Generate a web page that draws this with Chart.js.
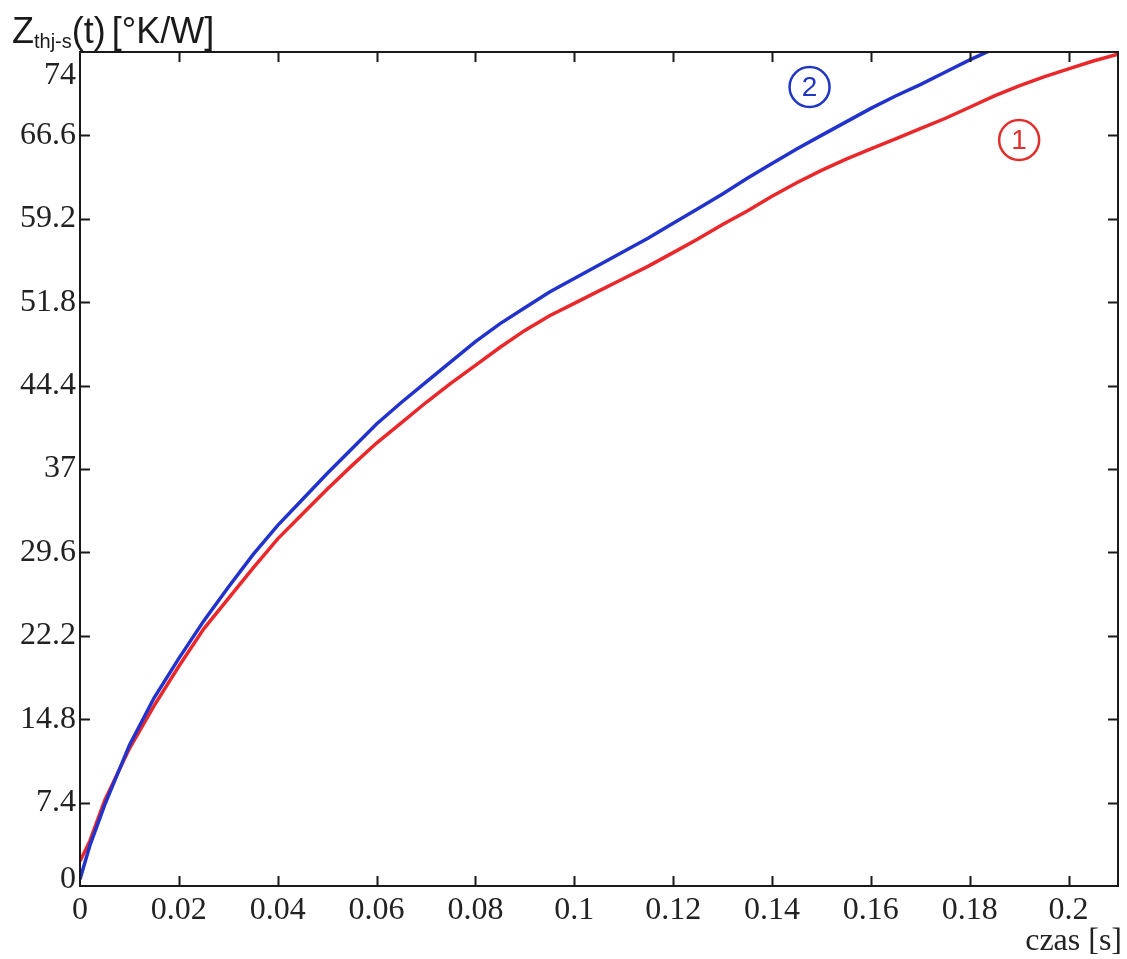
<!DOCTYPE html>
<html>
<head>
<meta charset="utf-8">
<script src="https://cdn.jsdelivr.net/npm/chart.js@4.4.1/dist/chart.umd.min.js"></script>
<style>
  html, body { margin: 0; padding: 0; background: #ffffff; }
  #wrap { width: 1127px; height: 959px; }
</style>
</head>
<body>
<div id="wrap"><canvas id="wykres" width="1127" height="959"></canvas></div>
<script>
// czas [s] i impedancja termiczna dla obu pomiarów
const czas1 = [0, 0.002, 0.005, 0.01, 0.015, 0.02, 0.025, 0.03, 0.035, 0.04, 0.045, 0.05, 0.055, 0.06,
  0.065, 0.07, 0.075, 0.08, 0.085, 0.09, 0.095, 0.1, 0.105, 0.11, 0.115, 0.12, 0.125, 0.13, 0.135,
  0.14, 0.145, 0.15, 0.155, 0.16, 0.165, 0.17, 0.175, 0.18, 0.185, 0.19, 0.195, 0.2, 0.205, 0.21];
const zth1 = [2.2, 4.0, 7.6, 12.2, 16.0, 19.5, 22.8, 25.5, 28.2, 30.8, 33.0, 35.2, 37.3, 39.3,
  41.1, 42.9, 44.6, 46.2, 47.8, 49.3, 50.6, 51.7, 52.8, 53.9, 55.0, 56.2, 57.4, 58.7, 59.9,
  61.2, 62.4, 63.5, 64.5, 65.4, 66.3, 67.2, 68.1, 69.1, 70.1, 71.0, 71.8, 72.5, 73.2, 73.8];

const czas2 = [0, 0.002, 0.005, 0.01, 0.015, 0.02, 0.025, 0.03, 0.035, 0.04, 0.045, 0.05, 0.055, 0.06,
  0.065, 0.07, 0.075, 0.08, 0.085, 0.09, 0.095, 0.1, 0.105, 0.11, 0.115, 0.12, 0.125, 0.13, 0.135,
  0.14, 0.145, 0.15, 0.155, 0.16, 0.165, 0.17, 0.175, 0.18, 0.185, 0.19];
const zth2 = [0.6, 3.6, 7.2, 12.5, 16.7, 20.2, 23.5, 26.5, 29.4, 32.0, 34.3, 36.6, 38.8, 41.0,
  42.9, 44.7, 46.5, 48.3, 49.9, 51.3, 52.7, 53.9, 55.1, 56.3, 57.5, 58.8, 60.1, 61.4, 62.8,
  64.1, 65.4, 66.6, 67.8, 69.0, 70.1, 71.1, 72.2, 73.3, 74.3, 75.2];

const xTicks = [0, 0.02, 0.04, 0.06, 0.08, 0.1, 0.12, 0.14, 0.16, 0.18, 0.2];
const xLabels = ['0', '0.02', '0.04', '0.06', '0.08', '0.1', '0.12', '0.14', '0.16', '0.18', '0.2'];
const yTicks = [0, 7.4, 14.8, 22.2, 29.6, 37, 44.4, 51.8, 59.2, 66.6, 74];
const yLabels = ['0', '7.4', '14.8', '22.2', '29.6', '37', '44.4', '51.8', '59.2', '66.6', '74'];

// opisy krzywych w kółkach
const opisy = [
  { tekst: '2', x: 0.1476, y: 70.9, kolor: '#2236c4' },
  { tekst: '1', x: 0.19, y: 66.2, kolor: '#e0302c' }
];

const SERIF = '"Liberation Serif", "DejaVu Serif", serif';
const SANS = '"Liberation Sans", Arial, sans-serif';

// ramka, znaczniki do środka, etykiety osi Y i opisy
const ramka = {
  id: 'ramka',
  afterDraw(chart) {
    const { ctx, chartArea: a, scales: { x, y } } = chart;
    ctx.save();
    ctx.strokeStyle = '#1a1a1a';
    ctx.lineWidth = 2;
    ctx.strokeRect(a.left, a.top, a.right - a.left, a.bottom - a.top);

    const L = 10;
    ctx.beginPath();
    xTicks.forEach(v => {
      const px = Math.round(x.getPixelForValue(v)) + 0.5;
      if (v === 0) return;
      ctx.moveTo(px, a.bottom); ctx.lineTo(px, a.bottom - L);
      ctx.moveTo(px, a.top); ctx.lineTo(px, a.top + L);
    });
    yTicks.forEach(v => {
      const py = Math.round(y.getPixelForValue(v)) + 0.5;
      if (v === 0 || v === 74) return;
      ctx.moveTo(a.left, py); ctx.lineTo(a.left + L, py);
      ctx.moveTo(a.right, py); ctx.lineTo(a.right - L, py);
    });
    ctx.stroke();

    // etykiety osi Y
    ctx.fillStyle = '#222';
    ctx.font = '32px ' + SERIF;
    ctx.textAlign = 'right';
    ctx.textBaseline = 'middle';
    yTicks.forEach((v, i) => {
      let py = y.getPixelForValue(v);
      if (i === yTicks.length - 1) py += 24;
      if (i === 0) py -= 6;
      ctx.fillText(yLabels[i], a.left - 4, py);
    });

    // tytuł osi X
    ctx.textAlign = 'right';
    ctx.textBaseline = 'alphabetic';
    ctx.font = '32px ' + SERIF;
    ctx.fillText('czas [s]', 1122, 950);

    // tytuł osi Y z indeksem dolnym
    ctx.textAlign = 'left';
    ctx.fillStyle = '#1a1a1a';
    let cx = 12;
    ctx.font = '36px ' + SANS;
    ctx.fillText('Z', cx, 43);
    cx += ctx.measureText('Z').width;
    ctx.font = '20px ' + SANS;
    ctx.fillText('thj-s', cx, 48);
    cx += ctx.measureText('thj-s').width;
    ctx.font = '36px ' + SANS;
    ctx.fillText('(t)', cx, 43);
    cx += ctx.measureText('(t)').width + 6;
    ctx.fillText('[\u00b0K/W]', cx, 43);

    // kółka z numerami krzywych
    opisy.forEach(o => {
      const px = x.getPixelForValue(o.x);
      const py = y.getPixelForValue(o.y);
      ctx.strokeStyle = o.kolor;
      ctx.fillStyle = o.kolor;
      ctx.lineWidth = 2.5;
      ctx.beginPath();
      ctx.arc(px, py, 20, 0, Math.PI * 2);
      ctx.stroke();
      ctx.font = '28px ' + SANS;
      ctx.textAlign = 'center';
      ctx.textBaseline = 'middle';
      ctx.fillText(o.tekst, px, py + 1);
    });
    ctx.restore();
  }
};

new Chart(document.getElementById('wykres'), {
  type: 'line',
  data: {
    datasets: [
      {
        label: '2',
        data: czas2.map((t, i) => ({ x: t, y: zth2[i] })),
        borderColor: '#2233cc',
        borderWidth: 3.5,
        pointRadius: 0,
        tension: 0,
        clip: 0
      },
      {
        label: '1',
        data: czas1.map((t, i) => ({ x: t, y: zth1[i] })),
        borderColor: '#e8282a',
        borderWidth: 3.5,
        pointRadius: 0,
        tension: 0,
        clip: 0
      }
    ]
  },
  options: {
    responsive: false,
    animation: false,
    layout: { padding: { left: 0, right: 9, top: 52, bottom: 0 } },
    plugins: { legend: { display: false }, tooltip: { enabled: false } },
    scales: {
      x: {
        type: 'linear',
        min: 0,
        max: 0.21,
        grid: { display: false, drawTicks: false },
        border: { display: false },
        afterBuildTicks: s => { s.ticks = xTicks.map(v => ({ value: v })); },
        afterFit: s => { s.height = 73; },
        ticks: {
          padding: 5,
          maxRotation: 0,
          autoSkip: false,
          color: '#222',
          font: { family: SERIF, size: 32 },
          callback: (v, i) => xLabels[i]
        }
      },
      y: {
        type: 'linear',
        min: 0,
        max: 74,
        grid: { display: false, drawTicks: false },
        border: { display: false },
        afterBuildTicks: s => { s.ticks = yTicks.map(v => ({ value: v })); },
        afterFit: s => { s.width = 80; },
        ticks: { display: false }
      }
    }
  },
  plugins: [ramka]
});
</script>
</body>
</html>
